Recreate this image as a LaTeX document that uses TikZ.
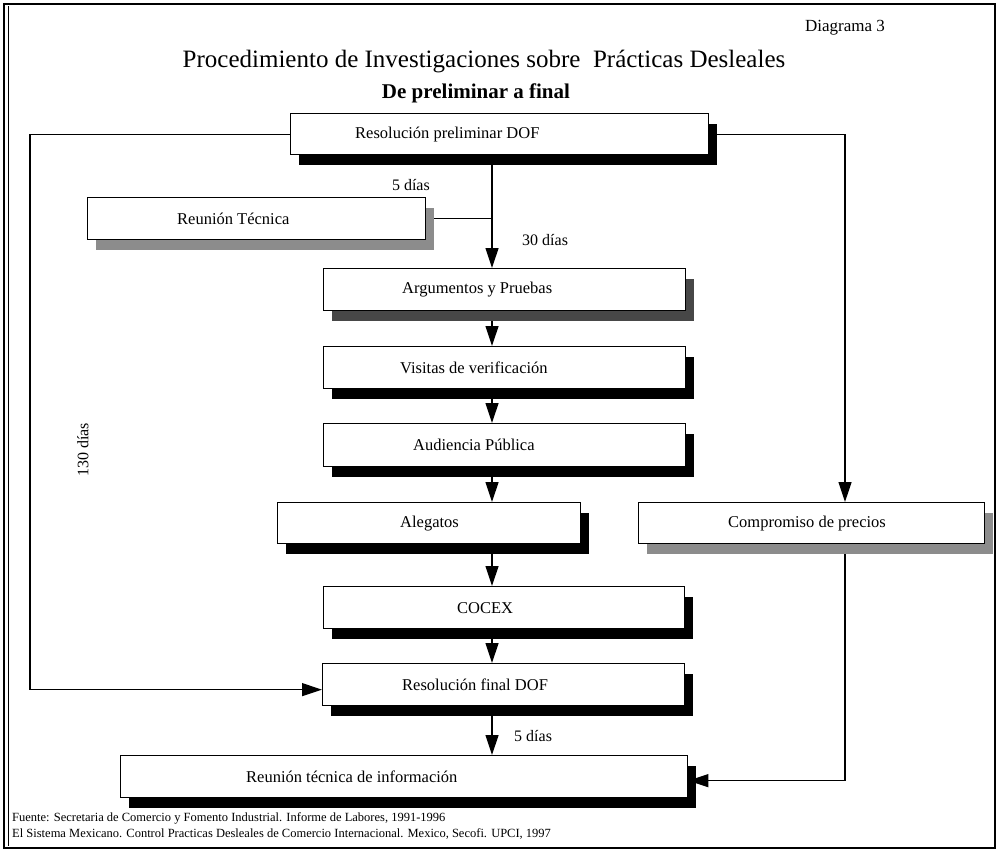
\documentclass[tikz,border=0pt]{standalone}
\usepackage{fontspec}
\setmainfont{Liberation Serif}
\usetikzlibrary{arrows.meta,shadows,backgrounds}

\begin{document}
\begin{tikzpicture}[x=1pt,y=-1pt,
  conn/.style={line width=1.2pt},
  arr/.style={conn,-{Triangle[width=13pt,length=20pt]}},
  procbox/.style={draw, line width=1.3pt, fill=white, inner sep=0pt, anchor=north west},
  hardbox/.style={procbox, drop shadow={shadow xshift=8pt, shadow yshift=-10pt, fill=black, opacity=1}},
  midbox/.style={procbox, drop shadow={shadow xshift=8pt, shadow yshift=-10pt, fill=black!72, opacity=1}},
  softbox/.style={procbox, drop shadow={shadow xshift=8pt, shadow yshift=-10pt, fill=black!45, opacity=1}},
  boxtext/.style={anchor=west, inner sep=0pt, font=\fontsize{16.5}{19}\selectfont},
  note/.style={inner sep=0pt, font=\fontsize{16}{19}\selectfont},
  foot/.style={anchor=west, inner sep=0pt, font=\fontsize{12.5}{14}\selectfont},
]
\useasboundingbox (0,0) rectangle (999,852);

% outer frame
\draw[line width=1.4pt] (4,4) rectangle (995,848);
\draw[line width=0.8pt] (8,6) -- (8,846);

% headings
\node[font=\fontsize{17}{20}\selectfont] (diag) at (845,28) {Diagrama 3};
\node[font=\fontsize{25}{29}\selectfont] (title) at (484,62) {Procedimiento de Investigaciones sobre\ \ Prácticas Desleales};
\node[font=\bfseries\fontsize{21}{25}\selectfont] (sub) at (476,93) {De preliminar a final};

% procedure steps
\node[hardbox, minimum width=418pt, minimum height=41pt] (rprel) at (290,113) {};
\node[boxtext] (rprel-t) at ([xshift=65pt]rprel.west) {Resolución preliminar DOF};

\node[softbox, minimum width=338pt, minimum height=42pt] (rtec) at (87,197) {};
\node[boxtext] (rtec-t) at ([xshift=90pt]rtec.west) {Reunión Técnica};

\node[midbox, minimum width=362pt, minimum height=42pt] (arg) at (323,268) {};
\node[boxtext] (arg-t) at ([xshift=79pt]arg.west) {Argumentos y Pruebas};

\node[hardbox, minimum width=362pt, minimum height=42pt] (vis) at (323,346) {};
\node[boxtext] (vis-t) at ([xshift=77pt]vis.west) {Visitas de verificación};

\node[hardbox, minimum width=362pt, minimum height=43pt] (aud) at (323,423) {};
\node[boxtext] (aud-t) at ([xshift=90pt]aud.west) {Audiencia Pública};

\node[hardbox, minimum width=303pt, minimum height=41pt] (ale) at (277,502) {};
\node[boxtext] (ale-t) at ([xshift=123pt]ale.west) {Alegatos};

\node[softbox, minimum width=346pt, minimum height=41pt] (comp) at (638,502) {};
\node[boxtext] (comp-t) at ([xshift=90pt]comp.west) {Compromiso de precios};

\node[hardbox, minimum width=361pt, minimum height=42pt] (cocex) at (323,586) {};
\node[boxtext] (cocex-t) at ([xshift=134pt]cocex.west) {COCEX};

\node[hardbox, minimum width=362pt, minimum height=42pt] (rfin) at (322,663) {};
\node[boxtext] (rfin-t) at ([xshift=80pt]rfin.west) {Resolución final DOF};

\node[hardbox, minimum width=567pt, minimum height=42pt] (rinfo) at (120,755) {};
\node[boxtext] (rinfo-t) at ([xshift=126pt]rinfo.west) {Reunión técnica de información};

% connector columns
\coordinate (cx) at (492,0);
\coordinate (lx) at (30,0);
\coordinate (rx) at (845,0);

\begin{scope}[on background layer]
  \draw[arr] (rprel.south -| cx) -- (arg.north -| cx);
  \draw[conn] (rtec.east) -- (rtec.east -| cx);
  \draw[arr] (arg.south -| cx) -- (vis.north -| cx);
  \draw[arr] (vis.south -| cx) -- (aud.north -| cx);
  \draw[arr] (aud.south -| cx) -- (ale.north -| cx);
  \draw[arr] (ale.south -| cx) -- (cocex.north -| cx);
  \draw[arr] (cocex.south -| cx) -- (rfin.north -| cx);
  \draw[arr] (rfin.south -| cx) -- (rinfo.north -| cx);
  \draw[arr] (rprel.west) -- (rprel.west -| lx) -- ([yshift=-5pt]rfin.west -| lx) -- ([yshift=-5pt]rfin.west);
  \draw[arr] (rprel.east) -- (rprel.east -| rx) -- (comp.north -| rx);
  \draw[arr] (comp.south -| rx) -- ([yshift=-4pt]rinfo.east -| rx) -- ([yshift=-4pt]rinfo.east);
\end{scope}

% time labels
\node[note, anchor=east] (d5a) at (430,185) {5 días};
\node[note, anchor=west] (d30) at (522,240) {30 días};
\node[note, rotate=90] (d130) at (83,450) {130 días};
\node[note, anchor=west] (d5b) at (514,736) {5 días};

% sources
\node[foot] (src1) at (12,818) {Fuente: Secretaria de Comercio y Fomento Industrial. Informe de Labores, 1991-1996};
\node[foot] (src2) at (12,834) {El Sistema Mexicano. Control Practicas Desleales de Comercio Internacional. Mexico, Secofi. UPCI, 1997};
\end{tikzpicture}
\end{document}
